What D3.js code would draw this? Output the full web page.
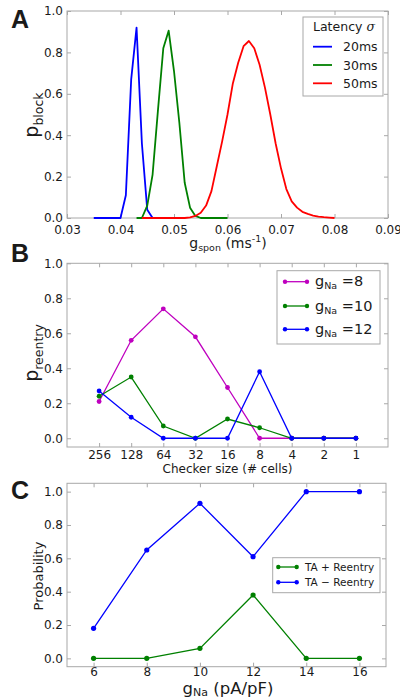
<!DOCTYPE html>
<html><head><meta charset="utf-8">
<script src="https://cdn.jsdelivr.net/npm/d3@7"></script>
<style>
body{margin:0;background:#fff}
svg{display:block}
text{font-family:"DejaVu Sans",sans-serif;fill:#1a1a1a}
</style>
</head><body><svg id="c" width="400" height="700"></svg>
<script>
// ---------- Panel A data ----------
const gspon20 = [0.035,0.036,0.037,0.038,0.039,0.040,0.041,0.042,0.043,0.044,0.045,0.046];
const pblock20 = [0,0,0,0,0,0,0.11,0.67,0.92,0.36,0.04,0];
const gspon30 = [0.043,0.044,0.045,0.046,0.047,0.048,0.049,0.050,0.051,0.052,0.053,0.054,0.055,0.056,0.057,0.058,0.059,0.060];
const pblock30 = [0,0,0.06,0.21,0.52,0.82,0.905,0.71,0.46,0.17,0.05,0.01,0,0,0,0,0,0];
const gspon50 = [0.044,0.045,0.046,0.047,0.048,0.049,0.050,0.051,0.052,0.053,0.054,0.055,0.056,0.057,0.058,0.059,0.060,0.061,0.062,0.063,0.064,0.065,0.066,0.067,0.068,0.069,0.070,0.071,0.072,0.073,0.074,0.075,0.076,0.077,0.078,0.079,0.080];
const pblock50 = [0,0,0,0,0,0,0,0,0,0.003,0.01,0.025,0.06,0.13,0.25,0.37,0.5,0.65,0.75,0.83,0.855,0.82,0.74,0.63,0.5,0.36,0.24,0.14,0.08,0.05,0.03,0.02,0.012,0.007,0.004,0.002,0];
const latencyLabels = ["20ms","30ms","50ms"];
const xTicksA = [0.03,0.04,0.05,0.06,0.07,0.08,0.09];

// ---------- Panel B data ----------
const checkerSizes = ["256","128","64","32","16","8","4","2","1"];
const reentry8  = [0.21,0.56,0.74,0.58,0.29,0,0,0,0];
const reentry10 = [0.24,0.35,0.07,0,0.11,0.06,0,0,0];
const reentry12 = [0.27,0.12,0,0,0,0.38,0,0,0];
const gNaLabelsB = ["8","10","12"];

// ---------- Panel C data ----------
const gNa = [6,8,10,12,14,16];
const taPlusReentry = [0,0,0.06,0.38,0,0];
const taMinusReentry = [0.18,0.65,0.93,0.61,1.0,1.0];
const seriesLabelsC = ["TA + Reentry","TA \u2212 Reentry"];

const yTicks = [0,0.2,0.4,0.6,0.8,1.0];
const C = {blue:"#0000ff", green:"#008000", red:"#ff0000", mag:"#bf00bf", frame:"#a8a8a8"};

const svg = d3.select("#c");

function axes(x, y, xTickVals, xFmt, xPad){
  const [x0,x1] = x.range(), [y0,y1] = y.range();
  const L = svg.append("g").attr("transform",`translate(${x0},0)`)
    .call(d3.axisLeft(y).tickValues(yTicks).tickFormat(d3.format(".1f")).tickSizeInner(-4).tickSizeOuter(0).tickPadding(4));
  const R = svg.append("g").attr("transform",`translate(${x1},0)`)
    .call(d3.axisRight(y).tickValues(yTicks).tickFormat("").tickSizeInner(-4).tickSizeOuter(0));
  const B = svg.append("g").attr("transform",`translate(0,${y0})`)
    .call(d3.axisBottom(x).tickValues(xTickVals).tickFormat(xFmt).tickSizeInner(-4).tickSizeOuter(0).tickPadding(xPad));
  const T = svg.append("g").attr("transform",`translate(0,${y1})`)
    .call(d3.axisTop(x).tickValues(xTickVals).tickFormat("").tickSizeInner(-4).tickSizeOuter(0));
  [L,R,B,T].forEach(g=>{
    g.select(".domain").remove();
    g.selectAll("line").attr("stroke",C.frame);
    g.attr("font-family",null).attr("font-size",null);
    g.selectAll("text").attr("fill","#1a1a1a").style("font-size","12px").style("font-family","DejaVu Sans");
  });
  svg.append("rect").attr("x",x0).attr("y",y1).attr("width",x1-x0).attr("height",y0-y1)
    .attr("fill","none").attr("stroke",C.frame).attr("stroke-width",1);
}

function subText(parent, x, y, parts, opts={}){
  const t = parent.append("text").attr("x",x).attr("y",y);
  if(opts.rotate) t.attr("transform",`rotate(-90,${x},${y})`);
  if(opts.anchor) t.attr("text-anchor",opts.anchor);
  let prevDy = 0;
  parts.forEach(p=>{
    const s = t.append("tspan").text(p.t).style("font-size",p.s+"px");
    const dy = p.dy||0;
    if(dy-prevDy) s.attr("dy",dy-prevDy);
    prevDy = dy;
    if(p.it) s.style("font-style","italic").style("font-family","DejaVu Serif");
  });
  return t;
}

function panelLetter(l, x, y){
  svg.append("text").attr("x",x).attr("y",y).text(l)
    .style("font-family","Liberation Sans").style("font-weight","bold").style("font-size","25px").attr("fill","#000");
}

// ================= Panel A =================
{
  const x = d3.scaleLinear().domain([0.03,0.09]).range([67,388]);
  const y = d3.scaleLinear().domain([0,1]).range([218,11]);
  axes(x,y,xTicksA,d3.format(".2f"),7);
  const line = d3.line().x(d=>x(d[0])).y(d=>y(d[1]));
  const sets = [[gspon20,pblock20,C.blue],[gspon30,pblock30,C.green],[gspon50,pblock50,C.red]];
  sets.forEach(([xs,ys,col])=>{
    svg.append("path").datum(xs.map((v,i)=>[v,ys[i]])).attr("d",line)
      .attr("fill","none").attr("stroke",col).attr("stroke-width",1.8).attr("stroke-linejoin","round");
  });
  // legend
  svg.append("rect").attr("x",303).attr("y",17).attr("width",80).attr("height",79)
    .attr("fill","#fff").attr("stroke",C.frame);
  subText(svg,313,31,[{t:"Latency ",s:12.5},{t:"\u03c3",s:12.5,it:true}]);
  const rows=[46.7,65,83.3];
  latencyLabels.forEach((lab,i)=>{
    svg.append("line").attr("x1",313).attr("x2",332).attr("y1",rows[i]).attr("y2",rows[i])
      .attr("stroke",sets[i][2]).attr("stroke-width",1.8);
    svg.append("text").attr("x",343).attr("y",rows[i]+4.5).text(lab).style("font-size","12.5px");
  });
  subText(svg,38,115,[{t:"p",s:19},{t:"block",s:12.5,dy:5}],{rotate:true,anchor:"middle"});
  subText(svg,228,248,[{t:"g",s:14},{t:"spon",s:9.5,dy:3},{t:" (ms",s:14,dy:0},{t:"-1",s:9.5,dy:-6},{t:")",s:14,dy:0}],{anchor:"middle"});
  panelLetter("A",11,28);
}

// ================= Panel B =================
{
  const x = d3.scaleLinear().domain([-1,9]).range([67,388]);
  const y = d3.scaleLinear().domain([-0.05,1]).range([447,263.3]);
  axes(x,y,d3.range(checkerSizes.length),i=>checkerSizes[i],3);
  const line = d3.line().x((d,i)=>x(i)).y(d=>y(d));
  const sets = [[reentry8,C.mag],[reentry10,C.green],[reentry12,C.blue]];
  sets.forEach(([ys,col])=>{
    svg.append("path").datum(ys).attr("d",line).attr("fill","none").attr("stroke",col).attr("stroke-width",1.3);
    svg.append("g").selectAll("circle").data(ys).join("circle")
      .attr("cx",(d,i)=>x(i)).attr("cy",d=>y(d)).attr("r",2.4).attr("fill",col);
  });
  svg.append("rect").attr("x",277).attr("y",270.7).attr("width",103).attr("height",73.3)
    .attr("fill","#fff").attr("stroke",C.frame);
  const rows=[281.7,306,329.3];
  gNaLabelsB.forEach((lab,i)=>{
    const col=sets[i][1];
    svg.append("line").attr("x1",285).attr("x2",307).attr("y1",rows[i]).attr("y2",rows[i]).attr("stroke",col).attr("stroke-width",1.3);
    [285,307].forEach(cx=>svg.append("circle").attr("cx",cx).attr("cy",rows[i]).attr("r",2.2).attr("fill",col));
    subText(svg,315,rows[i]+4.5,[{t:"g",s:14.5},{t:"Na",s:9.5,dy:3},{t:" =",s:14.5,dy:0},{t:lab,s:14.5,dy:0}]);
  });
  subText(svg,38,353,[{t:"p",s:19},{t:"reentry",s:12.5,dy:5}],{rotate:true,anchor:"middle"});
  svg.append("text").attr("x",227.5).attr("y",473).attr("text-anchor","middle").text("Checker size (# cells)").style("font-size","12px");
  panelLetter("B",11,262);
}

// ================= Panel C =================
{
  const x = d3.scaleLinear().domain([5,17]).range([67,386]);
  const y = d3.scaleLinear().domain([-0.05,1.05]).range([666.7,483.3]);
  axes(x,y,gNa,d3.format("d"),1);
  const sets = [[taPlusReentry,C.green],[taMinusReentry,C.blue]];
  const line = d3.line().x((d,i)=>x(gNa[i])).y(d=>y(d));
  sets.forEach(([ys,col])=>{
    svg.append("path").datum(ys).attr("d",line).attr("fill","none").attr("stroke",col).attr("stroke-width",1.3);
    svg.append("g").selectAll("circle").data(ys).join("circle")
      .attr("cx",(d,i)=>x(gNa[i])).attr("cy",d=>y(d)).attr("r",2.6).attr("fill",col);
  });
  svg.append("rect").attr("x",272.7).attr("y",557.7).attr("width",107.3).attr("height",35)
    .attr("fill","#fff").attr("stroke",C.frame);
  const rows=[567,582.3];
  seriesLabelsC.forEach((lab,i)=>{
    const col=sets[i][1];
    svg.append("line").attr("x1",278.3).attr("x2",296.7).attr("y1",rows[i]).attr("y2",rows[i]).attr("stroke",col).attr("stroke-width",1.3);
    [278.3,296.7].forEach(cx=>svg.append("circle").attr("cx",cx).attr("cy",rows[i]).attr("r",2.2).attr("fill",col));
    svg.append("text").attr("x",305).attr("y",rows[i]+3.8).text(lab).style("font-size","10.5px");
  });
  svg.append("text").attr("transform","rotate(-90,43,576)").attr("x",43).attr("y",576)
    .attr("text-anchor","middle").text("Probability").style("font-size","13px");
  subText(svg,228,694,[{t:"g",s:16.5},{t:"Na",s:11,dy:2},{t:" (pA/pF)",s:16.5,dy:0}],{anchor:"middle"});
  panelLetter("C",11,499);
}
</script></body></html>
